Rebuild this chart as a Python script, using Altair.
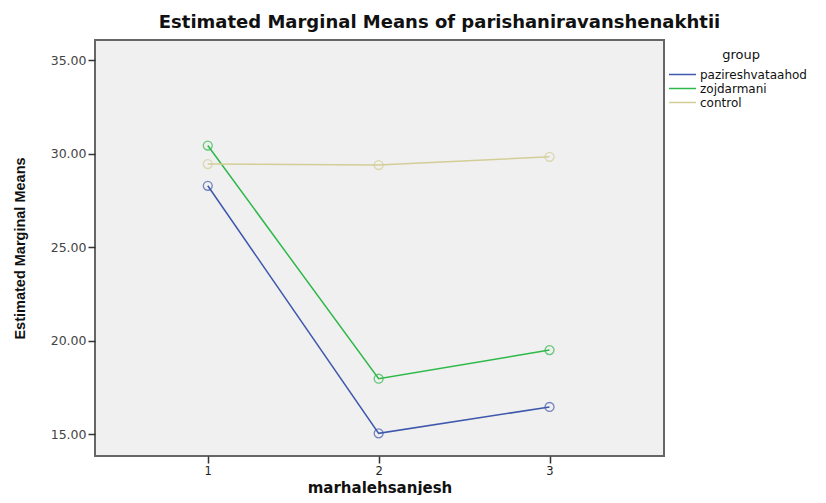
import altair as alt
import pandas as pd

stages = [1, 2, 3]
groups = ["pazireshvataahod", "zojdarmani", "control"]
pazireshvataahod = [28.28, 15.05, 16.46]
zojdarmani = [30.43, 17.97, 19.50]
control = [29.44, 29.39, 29.83]
colors = ["#3E58AC", "#2EB848", "#D3CE97"]
y_ticks = [15, 20, 25, 30, 35]

rows = []
for g, vals in zip(groups, [pazireshvataahod, zojdarmani, control]):
    for s, v in zip(stages, vals):
        rows.append({"marhalehsanjesh": s, "group": g, "mean": v})
df = pd.DataFrame(rows)

x = alt.X(
    "marhalehsanjesh:Q",
    scale=alt.Scale(domain=[0.34, 3.67], nice=False, zero=False),
    axis=alt.Axis(
        values=stages, format="d", title="marhalehsanjesh",
        titleFont="DejaVu Sans", titleFontSize=15, titleFontWeight="bold",
        titleColor="#111", titleY=31, titleBaseline="middle",
        labelFontSize=11.5, labelPadding=2,
    ),
)
y = alt.Y(
    "mean:Q",
    scale=alt.Scale(domain=[13.84, 36.07], nice=False, zero=False),
    axis=alt.Axis(
        values=y_ticks, format=".2f", title="Estimated Marginal Means",
        titleFont="Liberation Sans", titleFontSize=14.5, titleFontWeight="bold",
        titleColor="#111", titleX=-75, titleY=208, titleAngle=-90,
        titleAlign="center", titleBaseline="middle",
        labelFontSize=12.5, labelPadding=2, labelColor="#444",
    ),
)
color = alt.Color(
    "group:N",
    scale=alt.Scale(domain=groups, range=colors),
    legend=alt.Legend(
        title="group", orient="none", legendX=580, legendY=9,
        symbolType="M-2,0H2", symbolSize=182, symbolStrokeWidth=1.5,
        symbolFillColor="transparent",
        labelFont="DejaVu Sans", labelFontSize=12, labelColor="#111",
        titleFont="DejaVu Sans", titleFontSize=13, titleFontWeight="normal",
        titleColor="#111", titleAnchor="middle", titleAlign="center",
        titlePadding=5, rowPadding=0, labelOffset=10,
    ),
)

lines = alt.Chart(df).mark_line(strokeWidth=1.5).encode(x=x, y=y, color=color)
points = alt.Chart(df).mark_point(filled=False, size=80, strokeWidth=1.3).encode(
    x=x, y=y, color=alt.Color("group:N", scale=alt.Scale(domain=groups, range=colors), legend=None)
)

chart = (
    alt.layer(lines, points)
    .properties(
        width=569, height=416,
        autosize=alt.AutoSizeParams(type="none"),
        padding={"left": 87, "top": 32, "right": 154, "bottom": 39},
        title=alt.TitleParams(
            "Estimated Marginal Means of parishaniravanshenakhtii",
            font="DejaVu Sans", fontSize=18, fontWeight="bold", color="#111",
            anchor="middle", dx=60, offset=8,
        ),
    )
    .configure_view(fill="#F0F0F0", stroke="#666666", strokeWidth=2)
    .configure_axis(
        grid=False, domain=False, labelFont="DejaVu Sans",
        tickColor="#333", tickSize=7, tickWidth=1.5, labelColor="#222",
    )
)

chart.save("out.html", embed_options={"renderer": "svg", "actions": False})
